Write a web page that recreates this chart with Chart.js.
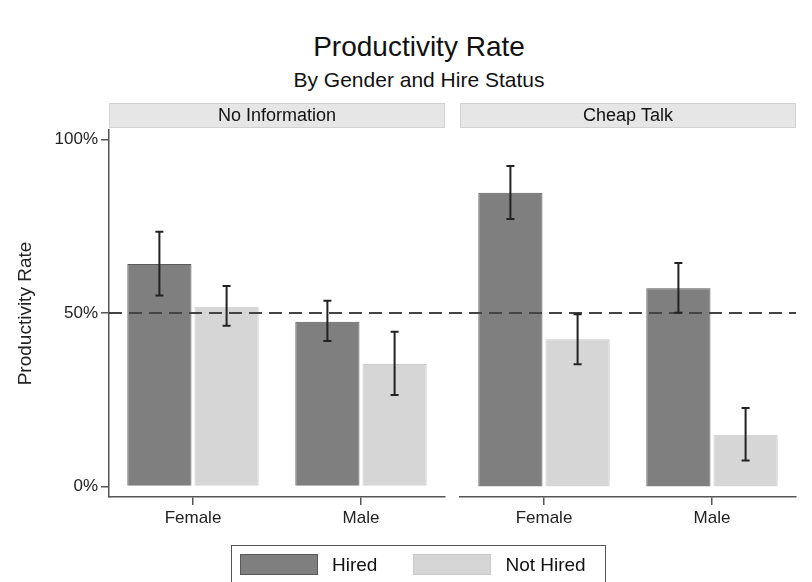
<!DOCTYPE html>
<html>
<head>
<meta charset="utf-8">
<script src="https://cdn.jsdelivr.net/npm/chart.js@4.4.0/dist/chart.umd.min.js"></script>
<style>
  body { margin: 0; background: #fff; font-family: "Liberation Sans", Arial, sans-serif; }
  #wrap { position: relative; width: 812px; height: 582px; overflow: hidden; }
  canvas { position: absolute; top: 0; }
  .title { position: absolute; left: 0; width: 838px; text-align: center; color: #111; white-space: nowrap; }
  #legend { position: absolute; left: 231px; top: 545px; width: 375px; height: 60px;
            border: 1.5px solid #555; box-sizing: border-box; display: flex; align-items: flex-start;
            padding: 8px 0 0 8px; }
  .item { display: flex; align-items: center; margin-right: 36px; font-size: 19px; color: #111;
          white-space: nowrap; flex-shrink: 0; line-height: 21px; }
  .sw { width: 78px; height: 21px; box-sizing: border-box; margin-right: 14px; flex-shrink: 0; }
</style>
</head>
<body>
<div id="wrap">
  <div class="title" id="t1" style="top:32px;font-size:28px;line-height:30px;"></div>
  <div class="title" id="t2" style="top:68px;font-size:21px;line-height:24px;"></div>
  <canvas id="c1" width="452" height="582" style="left:0px"></canvas>
  <canvas id="c2" width="360" height="582" style="left:452px"></canvas>
  <div id="legend"></div>
</div>
<script>
// ---- data ----
const chartTitle = 'Productivity Rate';
const chartSubtitle = 'By Gender and Hire Status';
const yTitle = 'Productivity Rate';
const panels = ['No Information', 'Cheap Talk'];
const genders = ['Female', 'Male'];
const seriesNames = ['Hired', 'Not Hired'];

const noInfoHired = [64.1, 47.5];
const noInfoHiredLo = [55.0, 41.9];
const noInfoHiredHi = [73.4, 53.5];
const noInfoNotHired = [51.8, 35.3];
const noInfoNotHiredLo = [46.3, 26.4];
const noInfoNotHiredHi = [57.8, 44.6];

const cheapHired = [84.6, 57.1];
const cheapHiredLo = [77.1, 50.1];
const cheapHiredHi = [92.3, 64.4];
const cheapNotHired = [42.4, 14.9];
const cheapNotHiredLo = [35.2, 7.5];
const cheapNotHiredHi = [49.6, 22.6];

const yTicks = [0, 50, 100];
const refValue = 50;

// ---- styles ----
const colors = ['#7f7f7f', '#d6d6d6'];
const borders = ['#5a5a5a', '#c9c9c9'];
const ink = '#222';
const axisColor = '#555';
const dash = [13, 7];

Chart.defaults.font.family = '"Liberation Sans", Arial, sans-serif';
Chart.defaults.color = ink;

document.getElementById('t1').textContent = chartTitle;
document.getElementById('t2').textContent = chartSubtitle;

// legend from series names
const legend = document.getElementById('legend');
seriesNames.forEach(function (name, i) {
    const it = document.createElement('div');
    it.className = 'item';
    const sw = document.createElement('div');
    sw.className = 'sw';
    sw.style.background = colors[i];
    sw.style.border = '1.5px solid ' + borders[i];
    it.appendChild(sw);
    it.appendChild(document.createTextNode(name));
    legend.appendChild(it);
});

// grey strip with the panel name above the plot area
const panelHeader = {
    id: 'panelHeader',
    beforeDraw(chart, args, opts) {
        const ctx = chart.ctx, a = chart.chartArea;
        ctx.save();
        ctx.fillStyle = '#e6e6e6';
        ctx.fillRect(a.left, 103, a.right - a.left, 25);
        ctx.strokeStyle = '#d2d2d2';
        ctx.lineWidth = 1;
        ctx.strokeRect(a.left + 0.5, 103.5, a.right - a.left - 1, 24);
        ctx.fillStyle = '#111';
        ctx.font = '18px "Liberation Sans", Arial, sans-serif';
        ctx.textAlign = 'center';
        ctx.textBaseline = 'middle';
        ctx.fillText(opts.text, (a.left + a.right) / 2, 116);
        ctx.restore();
    }
};

// dashed reference line and error bars
const overlays = {
    id: 'overlays',
    afterDatasetsDraw(chart, args, opts) {
        const ctx = chart.ctx, a = chart.chartArea, y = chart.scales.y;
        ctx.save();
        // reference line
        const yy = y.getPixelForValue(refValue);
        ctx.strokeStyle = '#444';
        ctx.lineWidth = 2;
        ctx.setLineDash(dash);
        ctx.lineDashOffset = opts.dashOffset;
        ctx.beginPath();
        ctx.moveTo(opts.lineFrom(a), yy);
        ctx.lineTo(opts.lineTo(a, chart), yy);
        ctx.stroke();
        ctx.setLineDash([]);
        // error bars
        ctx.strokeStyle = ink;
        ctx.lineWidth = 2;
        chart.data.datasets.forEach(function (ds, i) {
            const meta = chart.getDatasetMeta(i);
            meta.data.forEach(function (bar, j) {
                const top = y.getPixelForValue(ds.errHi[j]);
                const bot = y.getPixelForValue(ds.errLo[j]);
                ctx.beginPath();
                ctx.moveTo(bar.x, top); ctx.lineTo(bar.x, bot);
                ctx.moveTo(bar.x - 4, top); ctx.lineTo(bar.x + 4, top);
                ctx.moveTo(bar.x - 4, bot); ctx.lineTo(bar.x + 4, bot);
                ctx.stroke();
            });
        });
        ctx.restore();
    }
};

function makeDatasets(hired, hiredLo, hiredHi, notHired, notHiredLo, notHiredHi) {
    const vals = [hired, notHired], lo = [hiredLo, notHiredLo], hi = [hiredHi, notHiredHi];
    return seriesNames.map(function (name, i) {
        return {
            label: name,
            data: vals[i],
            errLo: lo[i],
            errHi: hi[i],
            backgroundColor: colors[i],
            borderColor: borders[i],
            borderWidth: 1,
            categoryPercentage: 0.8,
            barPercentage: 0.955
        };
    });
}

function xScale() {
    return {
        afterFit: function (s) { s.height = 85; },
        ticks: { font: { size: 17 }, color: ink, padding: 3 },
        grid: { drawOnChartArea: false, offset: false, tickLength: 8, color: axisColor, lineWidth: 1.5 },
        border: { color: axisColor, width: 1.5 }
    };
}

const yMin = -3, yMax = 102.7;

new Chart(document.getElementById('c1'), {
    type: 'bar',
    data: {
        labels: genders,
        datasets: makeDatasets(noInfoHired, noInfoHiredLo, noInfoHiredHi, noInfoNotHired, noInfoNotHiredLo, noInfoNotHiredHi)
    },
    options: {
        responsive: false,
        animation: false,
        devicePixelRatio: 1,
        layout: { padding: { top: 130, right: 7, bottom: 0, left: 0 } },
        scales: {
            x: xScale(),
            y: {
                min: yMin,
                max: yMax,
                afterFit: function (s) { s.width = 109; },
                afterBuildTicks: function (s) { s.ticks = yTicks.map(function (v) { return { value: v }; }); },
                ticks: { font: { size: 17 }, color: ink, padding: 3, callback: function (v) { return v + '%'; } },
                grid: { drawOnChartArea: false, tickLength: 8, color: axisColor, lineWidth: 1.5 },
                border: { color: axisColor, width: 1.5 },
                title: { display: true, text: yTitle, font: { size: 19 }, color: ink, padding: { top: 14 } }
            }
        },
        plugins: {
            legend: { display: false },
            tooltip: { enabled: false },
            panelHeader: { text: panels[0] },
            overlays: {
                dashOffset: 0,
                lineFrom: function (a) { return a.left; },
                lineTo: function (a, chart) { return chart.width; }
            }
        }
    },
    plugins: [panelHeader, overlays]
});

new Chart(document.getElementById('c2'), {
    type: 'bar',
    data: {
        labels: genders,
        datasets: makeDatasets(cheapHired, cheapHiredLo, cheapHiredHi, cheapNotHired, cheapNotHiredLo, cheapNotHiredHi)
    },
    options: {
        responsive: false,
        animation: false,
        devicePixelRatio: 1,
        layout: { padding: { top: 130, right: 16, bottom: 0, left: 8 } },
        scales: {
            x: xScale(),
            y: { display: false, min: yMin, max: yMax }
        },
        plugins: {
            legend: { display: false },
            tooltip: { enabled: false },
            panelHeader: { text: panels[1] },
            overlays: {
                dashOffset: (452 - 109) % 20,
                lineFrom: function () { return 0; },
                lineTo: function (a) { return a.right; }
            }
        }
    },
    plugins: [panelHeader, overlays]
});
</script>
</body>
</html>
